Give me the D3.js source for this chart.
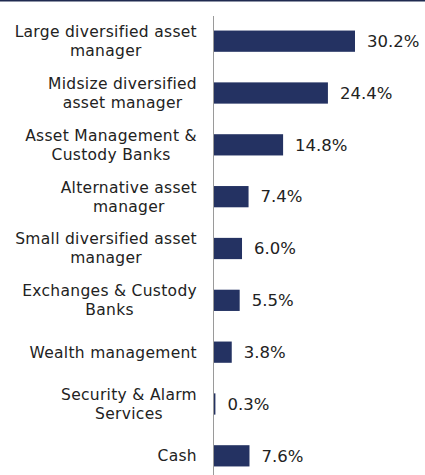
<!DOCTYPE html>
<html>
<head>
<meta charset="utf-8">
<script src="https://cdn.jsdelivr.net/npm/d3@7"></script>
<style>
  html, body { margin: 0; padding: 0; background: #fff; }
  svg { display: block; }
  text { font-family: "DejaVu Sans", sans-serif; fill: #222; }
</style>
</head>
<body>
<svg id="chart" width="425" height="475"></svg>
<script>
// Portfolio allocation by industry (%)
const categories = [
  ["Large diversified asset", "manager"],
  ["Midsize diversified", "asset manager"],
  ["Asset Management &", "Custody Banks"],
  ["Alternative asset", "manager"],
  ["Small diversified asset", "manager"],
  ["Exchanges & Custody", "Banks"],
  ["Wealth management"],
  ["Security & Alarm", "Services"],
  ["Cash"]
];
const values = [30.2, 24.4, 14.8, 7.4, 6.0, 5.5, 3.8, 0.3, 7.6];
const valueLabels = ["30.2%", "24.4%", "14.8%", "7.4%", "6.0%", "5.5%", "3.8%", "0.3%", "7.6%"];

const W = 425, H = 475;
const axisX = 214;
const svg = d3.select("#chart");

// top rule
svg.append("rect").attr("x", 0).attr("y", 0).attr("width", W).attr("height", 1.5).attr("fill", "#1f2a50");

const keys = d3.range(categories.length);
const y = d3.scaleBand().domain(keys).range([15, 482]).paddingInner(0.59).paddingOuter(0.3);
const x = d3.scaleLinear().domain([0, 30.2]).range([axisX, 355]);

// bars
svg.selectAll("rect.bar").data(keys).join("rect")
  .attr("class", "bar")
  .attr("x", axisX)
  .attr("y", i => y(i))
  .attr("width", i => x(values[i]) - axisX)
  .attr("height", y.bandwidth())
  .attr("fill", "#243262");

// category axis line
svg.append("line")
  .attr("x1", axisX - 0.5).attr("x2", axisX - 0.5)
  .attr("y1", 16).attr("y2", H)
  .attr("stroke", "#9a9a9a").attr("stroke-width", 1);

// category labels: block right-aligned to the axis, lines centred within the block
const lineH = 19;
const labelRight = 197;
keys.forEach(i => {
  const lines = categories[i];
  const cy = y(i) + y.bandwidth() / 2;
  const g = svg.append("g");
  const texts = lines.map((t, k) => g.append("text")
    .attr("font-size", 15.5)
    .attr("letter-spacing", 0.3)
    .attr("dy", "0.35em")
    .attr("y", cy + (k - (lines.length - 1) / 2) * lineH)
    .text(t));
  const maxW = d3.max(texts, t => t.node().getComputedTextLength());
  const cx = labelRight - maxW / 2;
  texts.forEach(t => t.attr("x", cx).attr("text-anchor", "middle"));
});

// value labels
svg.selectAll("text.val").data(keys).join("text")
  .attr("class", "val")
  .attr("x", i => x(values[i]) + 12)
  .attr("y", i => y(i) + y.bandwidth() / 2)
  .attr("dy", "0.35em")
  .attr("font-size", 16.5)
  .text(i => valueLabels[i]);
</script>
</body>
</html>
